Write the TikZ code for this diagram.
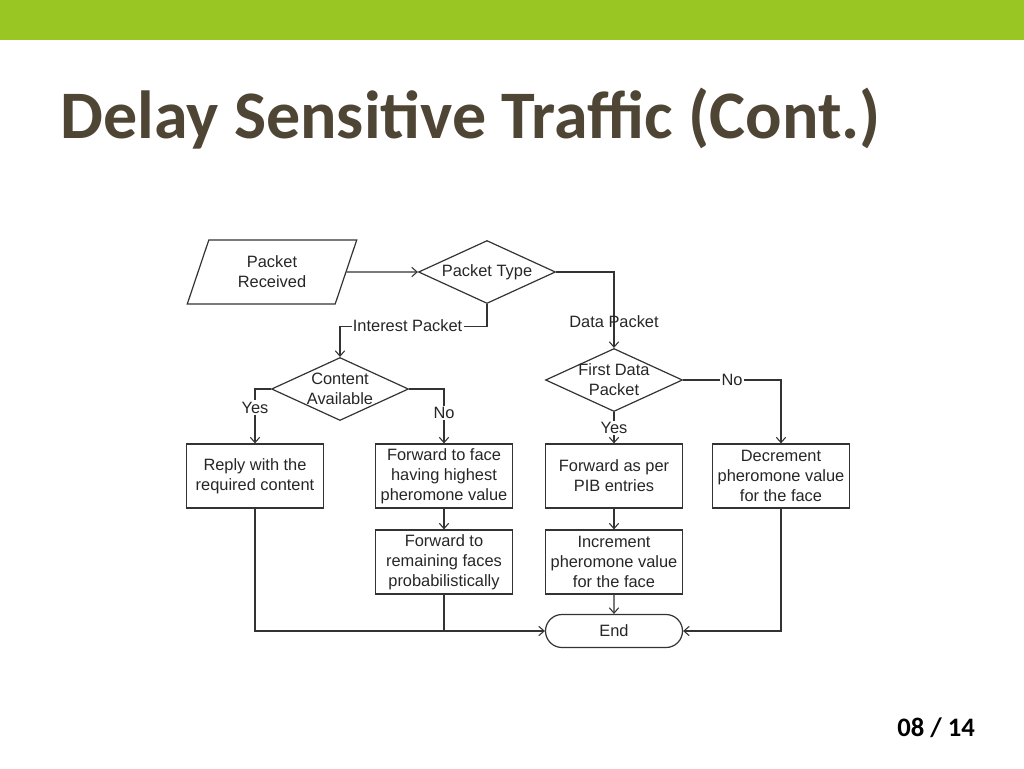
\documentclass[tikz,border=0pt]{standalone}
\usepackage{fontspec}
\setmainfont{Liberation Sans}
\newfontfamily\titlefont{Carlito}
\usetikzlibrary{shapes.geometric,shapes.misc,arrows.meta}
\definecolor{barg}{HTML}{9AC623}
\definecolor{titlec}{HTML}{4F4535}
\definecolor{linec}{HTML}{333333}
\definecolor{txtc}{HTML}{262626}
\begin{document}
\begin{tikzpicture}[x=0.75pt,y=-0.75pt,
  every node/.style={text=txtc, font=\fontsize{12.3}{15}\selectfont, align=center},
  box/.style={draw=linec, line width=0.9pt, rectangle, minimum width=102.75pt, minimum height=48pt, inner sep=0pt},
  dia/.style={draw=linec, line width=0.9pt, diamond, minimum width=102.75pt, minimum height=47.25pt, inner sep=0pt},
  para/.style={draw=linec, line width=0.9pt, trapezium, trapezium left angle=70, trapezium right angle=110, trapezium stretches=true, minimum width=127.5pt, minimum height=48pt, inner sep=0pt},
  term/.style={draw=linec, line width=0.9pt, rounded rectangle, minimum width=102.75pt, minimum height=24.75pt, inner sep=0pt},
  conn/.style={draw=linec, line width=0.8pt},
  arr/.style={conn, -{Straight Barb[length=4pt,width=7pt]}},
  lab/.style={fill=white, inner sep=1pt}
]
\useasboundingbox (0,0) rectangle (1024,768);
\fill[barg] (0,0) rectangle (1024,40);
\node[anchor=base west, inner sep=0pt, text=titlec, font=\titlefont\bfseries\fontsize{51}{60}\selectfont] (title) at (60,138) {Delay Sensitive Traffic (Cont.)};
\node[anchor=base west, inner sep=0pt, text=black, font=\titlefont\bfseries\fontsize{20}{24}\selectfont] (pg) at (897,736) {08 / 14};

% shapes
\node[para] (pr) at (272,272) {Packet\\Received};
\node[dia] (pt) at (487,272) {};
\node (ptT) at (pt) {Packet Type};
\node[dia] (ca) at (340,389) {};
\node (caT) at (ca) {Content\\Available};
\node[dia] (fd) at (614,380) {};
\node (fdT) at (fd) {First Data\\Packet};
\node[box] (rp) at (255,476) {Reply with the\\required content};
\node[box] (f1) at (444,476) {Forward to face\\having highest\\pheromone value};
\node[box] (fp) at (614,476) {Forward as per\\PIB entries};
\node[box] (dec) at (781,476) {Decrement\\pheromone value\\for the face};
\node[box] (f2) at (444,562) {Forward to\\remaining faces\\probabilistically};
\node[box] (inc) at (614,562) {Increment\\pheromone value\\for the face};
\node[term] (end) at (614,631) {End};

% connectors
\draw[arr] (pr.east) -- (pt.west);
\draw[arr] (pt.east) -| node[pos=0.83, inner sep=0pt] {Data Packet} (fd.north);
\draw[arr] (pt.south) -- ++(0,22) -| node[pos=0.27, lab] {Interest Packet} (ca.north);
\draw[arr] (ca.west) -| node[pos=0.67, lab] {Yes} (rp.north);
\draw[arr] (ca.east) -| node[pos=0.72, lab] {No} (f1.north);
\draw[arr] (fd.south) -- node[lab] {Yes} (fp.north);
\draw[arr] (fd.east) -| node[pos=0.25, lab] {No} (dec.north);
\draw[arr] (f1) -- (f2);
\draw[arr] (fp) -- (inc);
\draw[arr] (inc) -- (end);
\draw[arr] (rp.south) |- (end.west);
\draw[conn] (f2.south) -- (f2.south |- end.west);
\draw[arr] (dec.south) |- (end.east);
\end{tikzpicture}
\end{document}
